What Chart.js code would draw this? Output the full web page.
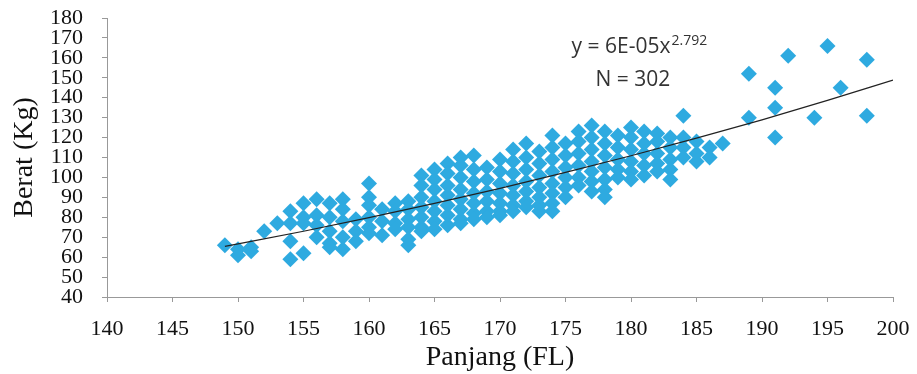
<!DOCTYPE html>
<html><head><meta charset="utf-8">
<script src="https://cdn.jsdelivr.net/npm/chart.js@4/dist/chart.umd.min.js"></script>
<style>html,body{margin:0;padding:0;background:#fff}#wrap{width:917px;height:374px}</style>
</head><body><div id="wrap"><canvas id="c" width="917" height="374"></canvas></div>
<script>
// Fork length (cm) and weight (kg) pairs
const lengths = [
149,150,150,151,151,152,153,
154,154,154,154,155,155,155,155,156,156,156,156,
157,157,157,157,157,158,158,158,158,158,159,159,159,
160,160,160,160,160,160,161,161,161,162,162,162,162,
163,163,163,163,163,163,164,164,164,164,164,164,164,
165,165,165,165,165,165,165,166,166,166,166,166,166,166,
167,167,167,167,167,167,167,167,168,168,168,168,168,168,168,
169,169,169,169,169,169,170,170,170,170,170,170,170,
171,171,171,171,171,171,171,172,172,172,172,172,172,172,
173,173,173,173,173,173,173,174,174,174,174,174,174,174,174,
175,175,175,175,175,175,176,176,176,176,176,176,
177,177,177,177,177,177,177,178,178,178,178,178,178,178,
179,179,179,179,179,180,180,180,180,180,180,
181,181,181,181,181,182,182,182,182,182,183,183,183,183,183,
184,184,184,184,185,185,185,186,186,187,
189,189,191,191,191,192,194,195,196,198,198
];
const weights = [
66,61,64,65,63,73,77,
83,77,68,59,87,80,77,62,89,81,76,70,
87,80,73,67,65,89,84,78,70,64,79,73,68,
97,90,86,80,75,72,84,78,71,87,83,77,74,
88,84,79,75,69,66,101,96,90,85,80,75,73,
104,99,94,88,83,78,74,107,102,96,91,86,81,76,
110,106,100,94,89,84,79,77,111,104,98,92,87,82,79,
105,99,93,88,83,80,109,103,97,92,87,83,81,
114,108,102,96,91,86,83,117,110,104,98,93,88,85,
113,107,101,95,90,86,83,121,115,109,103,97,92,87,83,
117,111,105,100,95,90,123,118,112,106,100,96,
126,120,114,108,103,98,93,123,117,111,105,99,94,90,
121,115,109,104,100,125,120,114,108,103,99,
123,117,112,106,101,122,118,112,107,103,120,115,109,104,99,
131,120,115,110,118,112,108,115,110,117,
152,130,145,135,120,161,130,166,145,159,131
];
// Trend line
const trendLengths = [149,155,160,165,170,175,180,185,190,195,200];
const trendWeights = [65.4,73.0,79.8,87.0,94.5,102.5,110.9,119.7,128.9,138.7,148.8];
// Tick labels
const xTickValues = [140,145,150,155,160,165,170,175,180,185,190,195,200];
const yTickValues = [40,50,60,70,80,90,100,110,120,130,140,150,160,170,180];
const equationText = 'y = 6E-05x';
const exponentText = '2.792';
const countText = 'N = 302';

const scatterData = lengths.map((x, i) => ({x: x, y: weights[i]}));
const trendData = trendLengths.map((x, i) => ({x: x, y: trendWeights[i]}));

const annotation = {
  id: 'eqn',
  afterDatasetsDraw(chart) {
    const ctx = chart.ctx;
    const xs = chart.scales.x, ys = chart.scales.y;
    const cx = xs.getPixelForValue(180.6);
    const y1 = ys.getPixelForValue(162.5);
    const y2 = ys.getPixelForValue(146);
    ctx.save();
    ctx.fillStyle = '#333';
    ctx.textBaseline = 'alphabetic';
    const mainFont = '21px "Open Sans"';
    const supFont = '14px "Open Sans"';
    ctx.font = mainFont;
    const w1 = ctx.measureText(equationText).width;
    ctx.font = supFont;
    const w2 = ctx.measureText(exponentText).width;
    const left = cx - (w1 + w2) / 2;
    ctx.font = mainFont;
    ctx.textAlign = 'left';
    ctx.fillText(equationText, left, y1);
    ctx.font = supFont;
    ctx.fillText(exponentText, left + w1 + 1, y1 - 8);
    ctx.font = mainFont;
    ctx.textAlign = 'center';
    ctx.fillText(countText, cx - 6, y2);
    ctx.restore();
  }
};

new Chart(document.getElementById('c'), {
  type: 'scatter',
  data: {
    datasets: [
      {
        type: 'line',
        data: trendData,
        borderColor: '#222',
        borderWidth: 1.2,
        pointRadius: 0,
        cubicInterpolationMode: 'monotone',
        fill: false,
        order: 0
      },
      {
        data: scatterData,
        pointStyle: 'rectRot',
        pointRadius: 8,
        pointHoverRadius: 8,
        backgroundColor: '#2eaae0',
        borderColor: '#2eaae0',
        borderWidth: 0,
        order: 1
      }
    ]
  },
  options: {
    responsive: false,
    animation: false,
    events: [],
    layout: {padding: {top: 18, right: 24, left: 0, bottom: 0}},
    plugins: {legend: {display: false}, tooltip: {enabled: false}},
    scales: {
      x: {
        type: 'linear',
        min: 140, max: 200,
        afterBuildTicks: s => { s.ticks = xTickValues.map(v => ({value: v})); },
        afterFit: s => { s.height = 77; s.paddingLeft = 0; s.paddingRight = 0; s.paddingTop = 0; s.paddingBottom = 0; },
        grid: {drawOnChartArea: false, color: '#999', tickLength: 5},
        border: {color: '#999', width: 1},
        ticks: {font: {family: '"Liberation Serif"', size: 22}, color: '#111', padding: 14, autoSkip: false, maxRotation: 0},
        title: {display: true, text: 'Panjang (FL)', font: {family: '"Liberation Serif"', size: 28}, color: '#111', padding: {top: 0, bottom: 0}}
      },
      y: {
        type: 'linear',
        min: 40, max: 180,
        afterBuildTicks: s => { s.ticks = yTickValues.map(v => ({value: v})); },
        afterFit: s => { s.width = 107; s.paddingLeft = 0; s.paddingRight = 0; s.paddingTop = 0; s.paddingBottom = 0; },
        grid: {drawOnChartArea: false, color: '#999', tickLength: 5},
        border: {color: '#999', width: 1},
        ticks: {font: {family: '"Liberation Serif"', size: 22}, color: '#111', padding: 19, autoSkip: false},
        title: {display: true, text: 'Berat (Kg)', font: {family: '"Liberation Serif"', size: 28}, color: '#111', padding: {top: 8, bottom: 0}}
      }
    }
  },
  plugins: [annotation]
});
</script>
</body></html>
